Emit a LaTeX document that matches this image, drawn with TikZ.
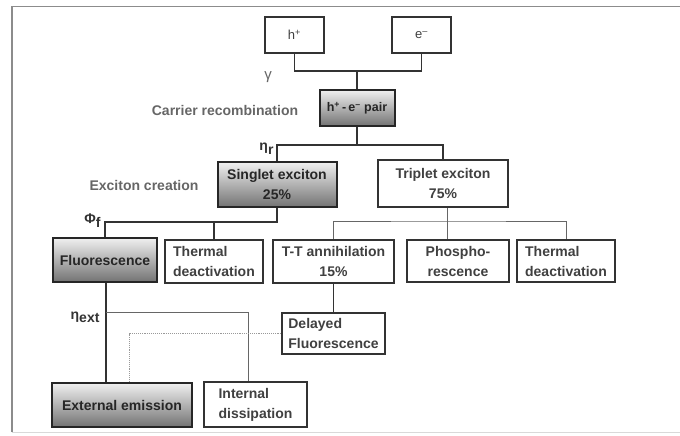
\documentclass[tikz,border=0pt]{standalone}
\usepackage{fontspec}
\setmainfont{Liberation Sans}

\begin{document}
\begin{tikzpicture}[x=1pt, y=-1pt,
    box/.style={draw=black!80, line width=1.6pt, fill=white, inner sep=2pt,
        font=\fontsize{14}{20}\selectfont\bfseries, text=black!75},
    shadedbox/.style={box, top color=black!6, bottom color=black!55, draw=black!85, line width=2pt, text=black!85},
    conn/.style={draw=black!80, line width=1.6pt},
    thinconn/.style={draw=black!60, line width=0.9pt},
    dotconn/.style={draw=black!40, line width=0.9pt, densely dotted},
    lbl/.style={font=\fontsize{14}{16}\selectfont\bfseries, text=black!60}]

        \useasboundingbox (0,0) rectangle (680,436);

        % Frame
        \draw[black!45, line width=1.5pt] (12,432) -- (12,6.5) -- (680,6.5);
        \draw[black!15, line width=1pt] (12,432) -- (680,432);

        % Nodes
        \node[box, minimum width=59, minimum height=36, font=\fontsize{13}{14}\selectfont] (hplus) at (294.5,35) {h\textsuperscript{+}};
        \node[box, minimum width=59, minimum height=36, font=\fontsize{13}{14}\selectfont] (eminus) at (421.5,35) {e\textsuperscript{--}};
        \node[shadedbox, minimum width=75, minimum height=36, font=\fontsize{12.5}{14}\selectfont\bfseries] (pair) at (357,108) {h\textsuperscript{+}\,-\,e\textsuperscript{--} pair};

        \node[shadedbox, minimum width=119, minimum height=45, align=center] (singlet) at (277,184.5) {Singlet exciton\\25\%};
        \node[box, minimum width=130, minimum height=47, align=center] (triplet) at (443,183.5) {Triplet exciton\\75\%};

        \node[shadedbox, minimum width=104, minimum height=44] (fluor) at (105,260) {Fluorescence};
        \node[box, minimum width=98, minimum height=43, align=left] (thermA) at (214,261.5) {Thermal\\deactivation};
        \node[box, minimum width=121, minimum height=43, align=center] (ttann) at (333.5,261.5) {T-T annihilation\\15\%};
        \node[box, minimum width=102, minimum height=42, align=center] (phos) at (458,261) {Phospho-\\rescence};
        \node[box, minimum width=98, minimum height=42, align=left] (thermB) at (566,261) {Thermal\\deactivation};

        \node[box, minimum width=103, minimum height=41, align=left] (delayed) at (333.5,333.5) {Delayed\\Fluorescence};
        \node[shadedbox, minimum width=140, minimum height=44] (extem) at (122,405) {External emission};
        \node[box, minimum width=103, minimum height=45, align=left] (intdis) at (255.5,404.5) {Internal\\dissipation};

        % Labels
        \node[lbl] (carrier) at (225,110) {Carrier recombination};
        \node[lbl] (creation) at (144,185) {Exciton creation};
        \node[lbl, font=\fontsize{15}{16}\selectfont] (gamma) at (268,77) {γ};
        \node[lbl, anchor=east, text=black!80] (etar) at (277,149) {η\raisebox{-4pt}{r}};
        \node[lbl, anchor=east, text=black!80] (phif) at (104,221) {Φ\raisebox{-4pt}{f}};
        \node[lbl, anchor=east, text=black!80] (etaext) at (103,317) {η\raisebox{-3pt}{ext}};

        % Junctions
        \coordinate (gj) at (357,71);
        \coordinate (rj) at (357,145);
        \coordinate (sj) at (277,222);
        \coordinate (tj) at (447,221);
        \coordinate (ej) at (106,312);

        % Edges
        \draw[conn] (hplus.south) |- (gj) -| (eminus.south);
        \draw[conn] (gj) -- (pair.north);
        \draw[conn] (pair.south) -- (rj);
        \draw[conn] (singlet.north) |- (rj) -| (triplet.north);
        \draw[conn] (singlet.south) -- (sj) -| (fluor.north);
        \draw[conn] (thermA.north) -- (thermA.north |- sj);
        \draw[thinconn] (tj |- triplet.south) -- (tj |- phos.north);
        \draw[thinconn] (ttann.north) |- (tj) -| (thermB.north);
        \draw[conn] (ttann.south) -- (delayed.north);
        \draw[conn] (fluor.south -| ej) -- (ej |- extem.north);
        \draw[thinconn] (ej) -| ([xshift=-7.5]intdis.north);
        \draw[dotconn] (delayed.west) -| ([xshift=7]extem.north);

\end{tikzpicture}
\end{document}
